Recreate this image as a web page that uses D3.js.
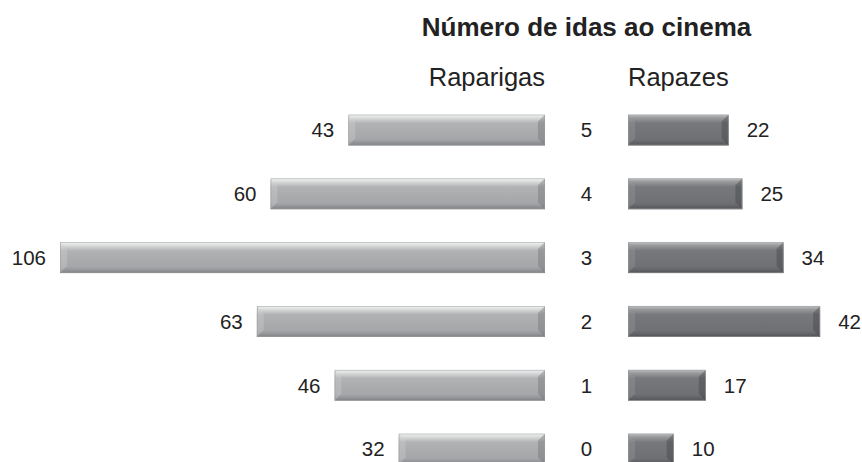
<!DOCTYPE html>
<html>
<head>
<meta charset="utf-8">
<script src="https://cdnjs.cloudflare.com/ajax/libs/d3/7.8.5/d3.min.js"></script>
<style>
  body { margin: 0; background: #fff; }
  svg { display: block; }
</style>
</head>
<body>
<svg class="graf_cinema"></svg>
<script>

// Données
let categories = ["5", "4", "3", "2", "1", "0"];
let raparigas = [43, 60, 106, 63, 46, 32];
let rapazes = [22, 25, 34, 42, 17, 10];

let titre = "Número de idas ao cinema";
let serieGauche = "Raparigas";
let serieDroite = "Rapazes";

let w = 862, h = 462;

let svg = d3.select(".graf_cinema")
    .attr("width", w)
    .attr("height", h);

let police = "'Liberation Sans', Arial, sans-serif";

// Axe central et échelles
let xCentre = 586.5;
let finGauche = 545;
let debutDroite = 628;

let x = d3.scaleLinear()
    .domain([0, 106])
    .range([0, 485]);

let y = d3.scalePoint()
    .domain(categories)
    .range([130, 449]);

let hauteurBarre = 31;

// Dégradés
let defs = svg.append("defs");

function degrade(id, stops){
  let g = defs.append("linearGradient")
      .attr("id", id)
      .attr("x1", 0).attr("y1", 0)
      .attr("x2", 0).attr("y2", 1);
  stops.forEach(function(s){
    g.append("stop").attr("offset", s[0]).attr("stop-color", s[1]);
  });
}

degrade("gradClair", [[0, "#f4f4f4"], [0.1, "#dcdddd"], [0.28, "#b0b2b4"], [0.8, "#a4a6a8"], [0.92, "#909295"], [1, "#7c7e81"]]);
degrade("gradFonce", [[0, "#c6c7c8"], [0.1, "#9a9c9e"], [0.28, "#76787b"], [0.8, "#6e7073"], [0.92, "#5f6164"], [1, "#4f5154"]]);

// Barres biseautées
function barre(g, x0, largeur, yc, grad, bordG, bordD){
  let y0 = yc - hauteurBarre / 2;
  let b = Math.min(7, largeur / 2);
  g.append("rect")
    .attr("x", x0)
    .attr("y", y0)
    .attr("width", largeur)
    .attr("height", hauteurBarre)
    .style("fill", "url(#" + grad + ")");
  // biseau gauche
  g.append("path")
    .attr("d", `M${x0},${y0} L${x0 + b},${y0 + b} L${x0 + b},${y0 + hauteurBarre - b} L${x0},${y0 + hauteurBarre} Z`)
    .style("fill", bordG)
    .style("opacity", 0.35);
  // biseau droit
  g.append("path")
    .attr("d", `M${x0 + largeur},${y0} L${x0 + largeur - b},${y0 + b} L${x0 + largeur - b},${y0 + hauteurBarre - b} L${x0 + largeur},${y0 + hauteurBarre} Z`)
    .style("fill", bordD)
    .style("opacity", 0.4);
  // contour
  g.append("rect")
    .attr("x", x0 + 0.5)
    .attr("y", y0 + 0.5)
    .attr("width", Math.max(0, largeur - 1))
    .attr("height", hauteurBarre - 1)
    .style("fill", "none")
    .style("stroke", "#9a9c9e")
    .style("stroke-width", 0.5);
}

let gBarres = svg.append("g");

categories.forEach(function(c, i){
  let lg = x(raparigas[i]);
  barre(gBarres, finGauche - lg, lg, y(c), "gradClair", "#d0d1d2", "#6e7073");
  let ld = x(rapazes[i]);
  barre(gBarres, debutDroite, ld, y(c), "gradFonce", "#9a9c9e", "#3e4043");
});

// Valeurs
svg.append("g")
  .selectAll("text")
  .data(raparigas)
  .enter()
  .append("text")
  .attr("x", function(d){ return finGauche - x(d) - 14; })
  .attr("y", function(d, i){ return y(categories[i]); })
  .attr("dy", "0.36em")
  .attr("text-anchor", "end")
  .style("font-family", police)
  .style("font-size", "20.5px")
  .style("fill", "#222")
  .text(function(d){ return d; });

svg.append("g")
  .selectAll("text")
  .data(rapazes)
  .enter()
  .append("text")
  .attr("x", function(d){ return debutDroite + x(d) + 18; })
  .attr("y", function(d, i){ return y(categories[i]); })
  .attr("dy", "0.36em")
  .attr("text-anchor", "start")
  .style("font-family", police)
  .style("font-size", "20.5px")
  .style("fill", "#222")
  .text(function(d){ return d; });

// Catégories au centre
svg.append("g")
  .selectAll("text")
  .data(categories)
  .enter()
  .append("text")
  .attr("x", xCentre)
  .attr("y", function(d){ return y(d); })
  .attr("dy", "0.36em")
  .attr("text-anchor", "middle")
  .style("font-family", police)
  .style("font-size", "20.5px")
  .style("fill", "#222")
  .text(function(d){ return d; });

// Titre et séries
svg.append("text")
  .attr("x", xCentre)
  .attr("y", 36)
  .attr("text-anchor", "middle")
  .style("font-family", police)
  .style("font-size", "26px")
  .style("font-weight", "bold")
  .style("fill", "#222")
  .text(titre);

svg.append("text")
  .attr("x", finGauche)
  .attr("y", 86)
  .attr("text-anchor", "end")
  .style("font-family", police)
  .style("font-size", "25.5px")
  .style("fill", "#222")
  .text(serieGauche);

svg.append("text")
  .attr("x", debutDroite)
  .attr("y", 86)
  .attr("text-anchor", "start")
  .style("font-family", police)
  .style("font-size", "25.5px")
  .style("fill", "#222")
  .text(serieDroite);

</script>
</body>
</html>
